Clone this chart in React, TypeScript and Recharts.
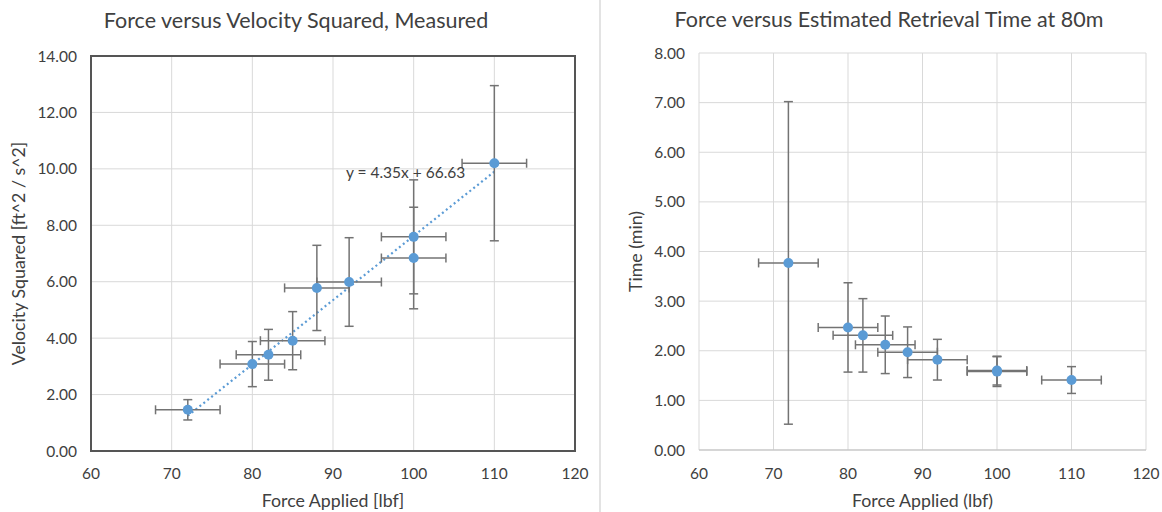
import React from "react"
import {
  ScatterChart,
  Scatter,
  XAxis,
  YAxis,
  CartesianGrid,
  ErrorBar,
  ReferenceArea,
  ReferenceLine,
  ReferenceDot,
} from "recharts"

// shared x values (force applied, lbf)
const force = [72, 80, 82, 85, 88, 92, 100, 100, 110]
const forceErr = [4, 4, 4, 4, 4, 4, 4, 4, 4]

// left chart: velocity squared
const velSq = [1.46, 3.08, 3.41, 3.91, 5.78, 5.99, 7.59, 6.84, 10.2]
const velSqErr = [0.36, 0.8, 0.9, 1.03, 1.51, 1.57, 2.02, 1.8, 2.75]
const trendX = [72, 110]
const trendY = [1.25, 9.9]
const equation = "y = 4.35x + 66.63"

// right chart: retrieval time
const time = [3.77, 2.47, 2.31, 2.12, 1.97, 1.82, 1.6, 1.58, 1.41]
const timeErr = [3.25, 0.9, 0.74, 0.58, 0.51, 0.41, 0.29, 0.3, 0.27]

const xTicks = [60, 70, 80, 90, 100, 110, 120]
const leftYTicks = [0, 2, 4, 6, 8, 10, 12, 14]
const rightYTicks = [0, 1, 2, 3, 4, 5, 6, 7, 8]

const leftData = force.map((x, i) => ({ x, y: velSq[i], ex: forceErr[i], ey: velSqErr[i] }))
const rightData = force.map((x, i) => ({ x, y: time[i], ex: forceErr[i], ey: timeErr[i] }))

const BLUE = "#5B9BD5"
const TEXT = "#404040"
const GRID = "#d9d9d9"
const ERR = "#737373"
const TICK = { fontSize: 15.5, fill: TEXT }
const AXIS_TITLE = 17.75

const dot = (props: any) => <circle cx={props.cx} cy={props.cy} r={5} fill={BLUE} />
const fmt2 = (v: number) => v.toFixed(2)

const titleStyle = (left: number, top: number): React.CSSProperties => ({
  position: "absolute",
  left,
  top,
  transform: "translate(-50%, -50%)",
  fontSize: 21.5,
  color: TEXT,
  whiteSpace: "nowrap",
})

export default function App() {
  return (
    <div
      style={{
        position: "absolute",
        left: 0,
        top: 0,
        width: 1162,
        height: 512,
        background: "#fff",
        fontFamily: "Lato, sans-serif",
        overflow: "hidden",
      }}
    >
      <div style={titleStyle(296, 20)}>Force versus Velocity Squared, Measured</div>
      <div style={titleStyle(889, 19)}>Force versus Estimated Retrieval Time at 80m</div>
      <div style={{ position: "absolute", left: 599, top: 0, width: 2, height: 512, background: "#e3e3e3" }} />

      <div style={{ position: "absolute", left: 0, top: 0 }}>
        <ScatterChart width={600} height={512} margin={{ top: 56, right: 25, bottom: 0, left: 0 }}>
          <CartesianGrid stroke={GRID} />
          <XAxis
            type="number"
            dataKey="x"
            domain={[60, 120]}
            ticks={xTicks}
            axisLine={false}
            tickLine={false}
            tickSize={0}
            tickMargin={17}
            height={61}
            tick={TICK}
            label={{ value: "Force Applied [lbf]", position: "insideBottom", offset: 5, fontSize: AXIS_TITLE, fill: TEXT }}
          />
          <YAxis
            type="number"
            dataKey="y"
            domain={[0, 14]}
            ticks={leftYTicks}
            tickFormatter={fmt2}
            axisLine={false}
            tickLine={false}
            tickSize={0}
            tickMargin={14}
            width={91}
            tick={TICK}
            label={{
              value: "Velocity Squared [ft^2 / s^2]",
              angle: -90,
              position: "insideLeft",
              offset: 19,
              fontSize: AXIS_TITLE,
              fill: TEXT,
              style: { textAnchor: "middle" },
            }}
          />
          <ReferenceArea x1={60} x2={120} y1={0} y2={14} fill="none" stroke="#555" strokeWidth={2} />
          <ReferenceLine
            segment={[
              { x: trendX[0], y: trendY[0] },
              { x: trendX[1], y: trendY[1] },
            ]}
            stroke={BLUE}
            strokeWidth={2.2}
            strokeDasharray="2 3"
          />
          <ReferenceDot
            x={99}
            y={9.88}
            r={0}
            fill="none"
            stroke="none"
            label={{ value: equation, position: "center", fontSize: 15.5, fill: TEXT }}
          />
          <Scatter data={leftData} shape={dot} isAnimationActive={false}>
            <ErrorBar dataKey="ey" direction="y" width={4.5} stroke={ERR} strokeWidth={1.5} />
            <ErrorBar dataKey="ex" direction="x" width={4.5} stroke={ERR} strokeWidth={1.5} />
          </Scatter>
        </ScatterChart>
      </div>

      <div style={{ position: "absolute", left: 600, top: 0 }}>
        <ScatterChart width={562} height={512} margin={{ top: 53, right: 16, bottom: 0, left: 0 }}>
          <CartesianGrid stroke={GRID} />
          <XAxis
            type="number"
            dataKey="x"
            domain={[60, 120]}
            ticks={xTicks}
            axisLine={{ stroke: "#bfbfbf" }}
            tickLine={false}
            tickSize={0}
            tickMargin={18}
            height={62}
            tick={TICK}
            label={{ value: "Force Applied (lbf)", position: "insideBottom", offset: 5, fontSize: AXIS_TITLE, fill: TEXT }}
          />
          <YAxis
            type="number"
            dataKey="y"
            domain={[0, 8]}
            ticks={rightYTicks}
            tickFormatter={fmt2}
            axisLine={false}
            tickLine={false}
            tickSize={0}
            tickMargin={14}
            width={99}
            tick={TICK}
            label={{
              value: "Time (min)",
              angle: -90,
              position: "insideLeft",
              offset: 36,
              fontSize: AXIS_TITLE,
              fill: TEXT,
              style: { textAnchor: "middle" },
            }}
          />
          <Scatter data={rightData} shape={dot} isAnimationActive={false}>
            <ErrorBar dataKey="ey" direction="y" width={4.5} stroke={ERR} strokeWidth={1.5} />
            <ErrorBar dataKey="ex" direction="x" width={4.5} stroke={ERR} strokeWidth={1.5} />
          </Scatter>
        </ScatterChart>
      </div>
    </div>
  )
}
